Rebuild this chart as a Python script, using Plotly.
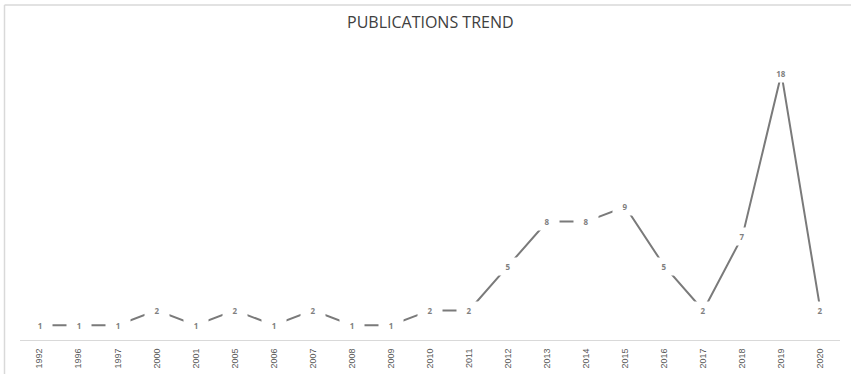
import plotly.graph_objects as go

years = ["1992", "1996", "1997", "2000", "2001", "2005", "2006", "2007", "2008", "2009",
         "2010", "2011", "2012", "2013", "2014", "2015", "2016", "2017", "2018", "2019", "2020"]
counts = [1, 1, 1, 2, 1, 2, 1, 2, 1, 1, 2, 2, 5, 8, 8, 9, 5, 2, 7, 18, 2]
title_text = "PUBLICATIONS TREND"

W, H = 851, 374
ml, mr, mt, mb = 20, 11, 44, 34

fig = go.Figure()
fig.add_trace(go.Scatter(
    x=years, y=counts, mode="lines",
    line=dict(color="#7a7a7a", width=2),
    hoverinfo="skip", showlegend=False,
))

annotations = []
for i, v in enumerate(counts):
    annotations.append(dict(
        x=i, y=v, xref="x", yref="y", text=str(v), showarrow=False,
        bgcolor="white", width=22, height=15, align="center", valign="middle",
        font=dict(family="Open Sans, Liberation Sans, sans-serif", size=8, color="#7f7f7f", weight="bold"),
    ))
annotations.append(dict(
    x=0.5, y=(H - mb - 22) / (H - mt - mb), xref="paper", yref="paper",
    xanchor="center", yanchor="middle",
    text=title_text, showarrow=False,
    font=dict(family="Open Sans, Liberation Sans, sans-serif", size=16, color="#404040"),
))

pw = W - ml - mr
ph = H - mt - mb
fx = (4.5 - ml) / pw
fy = (H - mb - 5) / ph

fig.update_layout(
    width=W, height=H,
    margin=dict(l=ml, r=mr, t=mt, b=mb, autoexpand=False),
    paper_bgcolor="white", plot_bgcolor="white",
    annotations=annotations,
    shapes=[
        dict(type="line", xref="paper", yref="paper", x0=fx, x1=fx, y0=-0.3, y1=fy,
             line=dict(color="#d9d9d9", width=1.5)),
        dict(type="line", xref="paper", yref="paper", x0=fx, x1=1.2, y0=fy, y1=fy,
             line=dict(color="#d9d9d9", width=1.5)),
    ],
    xaxis=dict(
        type="category", showgrid=False, zeroline=False, automargin=False,
        range=[-0.5, len(years) - 0.5],
        showline=True, linecolor="#d9d9d9", linewidth=1,
        tickangle=-90, ticks="", ticklabelstandoff=4,
        tickfont=dict(family="Liberation Sans Narrow, Liberation Sans, sans-serif", size=9, color="#595959"),
    ),
    yaxis=dict(range=[0, 20], visible=False, showgrid=False, zeroline=False, automargin=False),
)

fig.write_html("out.html")
